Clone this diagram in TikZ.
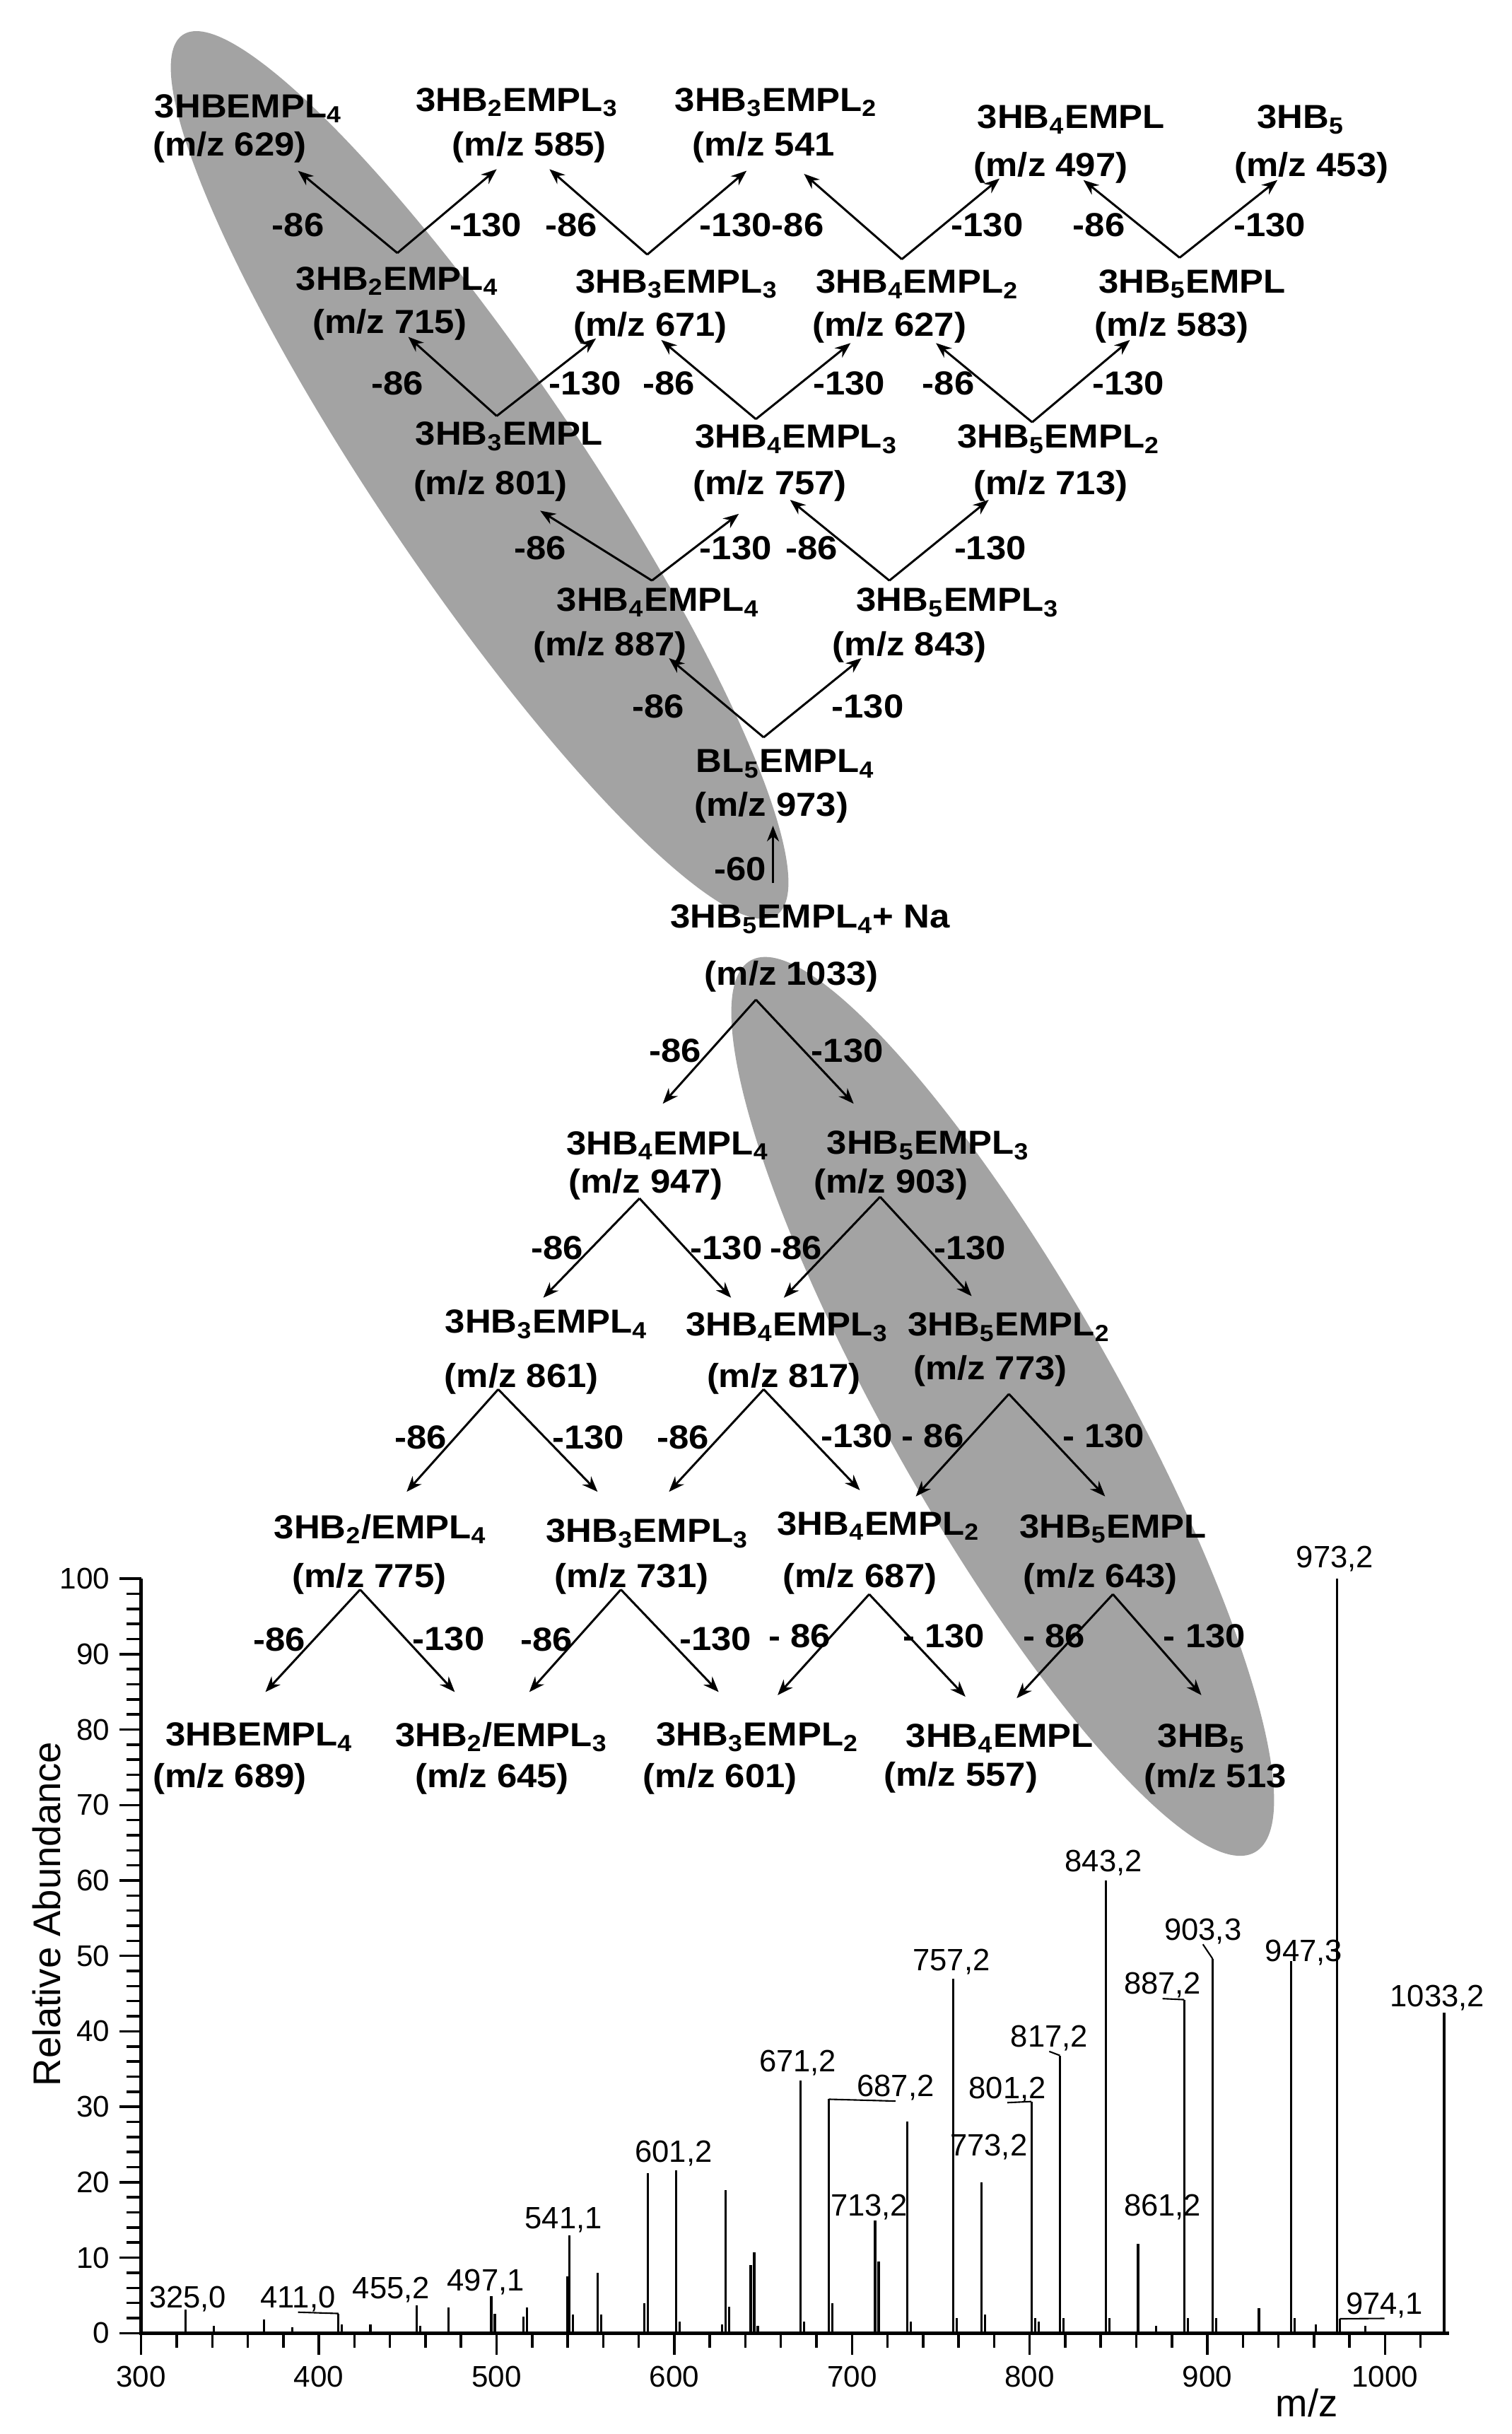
\documentclass[tikz,border=0pt]{standalone}
\usepackage{fontspec}
\setmainfont{Liberation Sans}
\newfontfamily\treefont{Liberation Sans}[FakeStretch=1.08]
\usetikzlibrary{arrows.meta}
\newcommand{\subn}[1]{\textsubscript{#1}}
\tikzset{
  ion/.style={font=\treefont\bfseries\fontsize{13.4}{16}\selectfont, inner sep=0pt},
  loss/.style={font=\treefont\bfseries\fontsize{13.4}{16}\selectfont, inner sep=0pt},
  frag/.style={-{Stealth[length=2.2mm,width=1.7mm]}, line width=0.85pt},
  blob/.style={fill=black!36},
  peak/.style={line width=0.9pt},
  plabel/.style={font=\fontsize{12.4}{14}\selectfont, inner sep=0pt},
  tlabel/.style={font=\fontsize{12}{14}\selectfont, inner sep=0pt},
}

\begin{document}
\begin{tikzpicture}[x=0.2195mm, y=-0.2195mm]
\useasboundingbox (0,0) rectangle (974,1568);

% shaded pathways
\fill[blob, rotate around={-56:(309,306)}] (309,306) ellipse [x radius=342, y radius=66];
\fill[blob, rotate around={-60.5:(646,906)}] (646,906) ellipse [x radius=330, y radius=74];

% upper tree, top row
\node[ion] (f629) at (160,70) {3HBEMPL\subn{4}};
\node[ion] (m629) at (148,95) {(m/z 629)};
\node[ion] (f585) at (333,66) {3HB\subn{2}EMPL\subn{3}};
\node[ion] (m585) at (341,95) {(m/z 585)};
\node[ion] (f541) at (500,66) {3HB\subn{3}EMPL\subn{2}};
\node[ion] (m541) at (492,95) {(m/z 541};
\node[ion] (f497) at (690,77) {3HB\subn{4}EMPL};
\node[ion] (m497) at (677,108) {(m/z 497)};
\node[ion] (f453) at (838,77) {3HB\subn{5}};
\node[ion] (m453) at (845,108) {(m/z 453)};
% second row
\node[ion] (f715) at (256,181) {3HB\subn{2}EMPL\subn{4}};
\node[ion] (m715) at (251,209) {(m/z 715)};
\node[ion] (f671) at (436,183) {3HB\subn{3}EMPL\subn{3}};
\node[ion] (m671) at (419,211) {(m/z 671)};
\node[ion] (f627) at (591,183) {3HB\subn{4}EMPL\subn{2}};
\node[ion] (m627) at (573,211) {(m/z 627)};
\node[ion] (f583) at (768,183) {3HB\subn{5}EMPL};
\node[ion] (m583) at (755,211) {(m/z 583)};
% third row
\node[ion] (f801) at (328,281) {3HB\subn{3}EMPL};
\node[ion] (m801) at (316,313) {(m/z 801)};
\node[ion] (f757) at (513,283) {3HB\subn{4}EMPL\subn{3}};
\node[ion] (m757) at (496,313) {(m/z 757)};
\node[ion] (f713) at (682,283) {3HB\subn{5}EMPL\subn{2}};
\node[ion] (m713) at (677,313) {(m/z 713)};
% fourth row
\node[ion] (f887) at (424,388) {3HB\subn{4}EMPL\subn{4}};
\node[ion] (m887) at (393,417) {(m/z 887)};
\node[ion] (f843) at (617,388) {3HB\subn{5}EMPL\subn{3}};
\node[ion] (m843) at (586,417) {(m/z 843)};
% lactone and parent ion
\node[ion] (f973) at (506,492) {BL\subn{5}EMPL\subn{4}};
\node[ion] (m973) at (497,520) {(m/z 973)};
\node[ion] (f1033) at (522,592) {3HB\subn{5}EMPL\subn{4}+ Na};
\node[ion] (m1033) at (510,629) {(m/z 1033)};

% lower tree
\node[ion] (f947) at (430,738) {3HB\subn{4}EMPL\subn{4}};
\node[ion] (m947) at (416,763) {(m/z 947)};
\node[ion] (f903) at (598,738) {3HB\subn{5}EMPL\subn{3}};
\node[ion] (m903) at (574,763) {(m/z 903)};
\node[ion] (f861) at (352,853) {3HB\subn{3}EMPL\subn{4}};
\node[ion] (m861) at (336,888) {(m/z 861)};
\node[ion] (f817) at (507,855) {3HB\subn{4}EMPL\subn{3}};
\node[ion] (m817) at (505,888) {(m/z 817)};
\node[ion] (f773) at (650,855) {3HB\subn{5}EMPL\subn{2}};
\node[ion] (m773) at (638,883) {(m/z 773)};
\node[ion] (f775) at (245,985) {3HB\subn{2}/EMPL\subn{4}};
\node[ion] (m775) at (238,1017) {(m/z 775)};
\node[ion] (f731) at (417,988) {3HB\subn{3}EMPL\subn{3}};
\node[ion] (m731) at (407,1017) {(m/z 731)};
\node[ion] (f687) at (566,983) {3HB\subn{4}EMPL\subn{2}};
\node[ion] (m687) at (554,1017) {(m/z 687)};
\node[ion] (f643) at (717,985) {3HB\subn{5}EMPL};
\node[ion] (m643) at (709,1017) {(m/z 643)};
\node[ion] (f689) at (167,1119) {3HBEMPL\subn{4}};
\node[ion] (m689) at (148,1146) {(m/z 689)};
\node[ion] (f645) at (323,1119) {3HB\subn{2}/EMPL\subn{3}};
\node[ion] (m645) at (317,1146) {(m/z 645)};
\node[ion] (f601) at (488,1119) {3HB\subn{3}EMPL\subn{2}};
\node[ion] (m601) at (464,1146) {(m/z 601)};
\node[ion] (f557) at (644,1120) {3HB\subn{4}EMPL};
\node[ion] (m557) at (619,1145) {(m/z 557)};
\node[ion] (f513) at (774,1120) {3HB\subn{5}};
\node[ion] (m513) at (783,1146) {(m/z 513};

% neutral losses, upper tree
\node[loss] (a715l) at (192,145) {-86};
\node[loss] (a715r) at (313,145) {-130};
\node[loss] (a671l) at (368,145) {-86};
\node[loss] (a671r) at (474,145) {-130};
\node[loss] (a627l) at (514,145) {-86};
\node[loss] (a627r) at (636,145) {-130};
\node[loss] (a583l) at (708,145) {-86};
\node[loss] (a583r) at (818,145) {-130};
\node[loss] (a801l) at (256,247) {-86};
\node[loss] (a801r) at (377,247) {-130};
\node[loss] (a757l) at (431,247) {-86};
\node[loss] (a757r) at (547,247) {-130};
\node[loss] (a713l) at (611,247) {-86};
\node[loss] (a713r) at (727,247) {-130};
\node[loss] (a887l) at (348,353) {-86};
\node[loss] (a887r) at (474,353) {-130};
\node[loss] (a843l) at (523,353) {-86};
\node[loss] (a843r) at (638,353) {-130};
\node[loss] (a973l) at (424,455) {-86};
\node[loss] (a973r) at (559,455) {-130};
\node[loss] (a1033u) at (477,560) {-60};
% neutral losses, lower tree
\node[loss] (b1033l) at (435,677) {-86};
\node[loss] (b1033r) at (546,677) {-130};
\node[loss] (b947l) at (359,804) {-86};
\node[loss] (b947r) at (468,804) {-130};
\node[loss] (b903l) at (513,804) {-86};
\node[loss] (b903r) at (625,804) {-130};
\node[loss] (b861l) at (271,926) {-86};
\node[loss] (b861r) at (379,926) {-130};
\node[loss] (b817l) at (440,926) {-86};
\node[loss] (b817r) at (552,925) {-130};
\node[loss] (b773l) at (601,925) {- 86};
\node[loss] (b773r) at (711,925) {- 130};
\node[loss] (b775l) at (180,1056) {-86};
\node[loss] (b775r) at (289,1056) {-130};
\node[loss] (b731l) at (352,1056) {-86};
\node[loss] (b731r) at (461,1056) {-130};
\node[loss] (b687l) at (515,1054) {- 86};
\node[loss] (b687r) at (608,1054) {- 130};
\node[loss] (b643l) at (679,1054) {- 86};
\node[loss] (b643r) at (776,1054) {- 130};

% upper arrows
\draw[frag] ([shift={(0,-18)}]f715.center) -- ([shift={(44,15)}]m629.center);
\draw[frag] ([shift={(0,-18)}]f715.center) -- ([shift={(-21,14)}]m585.center);
\draw[frag] ([shift={(-19,-19)}]f671.center) -- ([shift={(13,14)}]m585.center);
\draw[frag] ([shift={(-19,-19)}]f671.center) -- ([shift={(-11,15)}]m541.center);
\draw[frag] ([shift={(-10,-16)}]f627.center) -- ([shift={(26,17)}]m541.center);
\draw[frag] ([shift={(-10,-16)}]f627.center) -- ([shift={(-33,7)}]m497.center);
\draw[frag] ([shift={(-8,-17)}]f583.center) -- ([shift={(21,8)}]m497.center);
\draw[frag] ([shift={(-8,-17)}]f583.center) -- ([shift={(-22,8)}]m453.center);
\draw[frag] ([shift={(-8,-13)}]f801.center) -- ([shift={(12,8)}]m715.center);
\draw[frag] ([shift={(-8,-13)}]f801.center) -- ([shift={(-35,7)}]m671.center);
\draw[frag] ([shift={(-26,-13)}]f757.center) -- ([shift={(7,8)}]m671.center);
\draw[frag] ([shift={(-26,-13)}]f757.center) -- ([shift={(-25,10)}]m627.center);
\draw[frag] ([shift={(-17,-11)}]f713.center) -- ([shift={(30,10)}]m627.center);
\draw[frag] ([shift={(-17,-11)}]f713.center) -- ([shift={(-27,8)}]m583.center);
\draw[frag] ([shift={(-4,-14)}]f887.center) -- ([shift={(32,16)}]m801.center);
\draw[frag] ([shift={(-4,-14)}]f887.center) -- ([shift={(-20,18)}]m757.center);
\draw[frag] ([shift={(-44,-14)}]f843.center) -- ([shift={(13,9)}]m757.center);
\draw[frag] ([shift={(-44,-14)}]f843.center) -- ([shift={(-40,9)}]m713.center);
\draw[frag] ([shift={(-14,-17)}]f973.center) -- ([shift={(38,7)}]m887.center);
\draw[frag] ([shift={(-14,-17)}]f973.center) -- ([shift={(-31,7)}]m843.center);
\draw[frag] ([shift={(-24,-23)}]f1033.center) -- ([shift={(1,12)}]m973.center);

% lower arrows
\draw[frag] ([shift={(-23,15)}]m1033.center) -- ([shift={(-3,-27)}]f947.center);
\draw[frag] ([shift={(-23,15)}]m1033.center) -- ([shift={(-48,-27)}]f903.center);
\draw[frag] ([shift={(-4,9)}]m947.center) -- ([shift={(-2,-17)}]f861.center);
\draw[frag] ([shift={(-4,9)}]m947.center) -- ([shift={(-36,-19)}]f817.center);
\draw[frag] ([shift={(-7,8)}]m903.center) -- ([shift={(-2,-19)}]f817.center);
\draw[frag] ([shift={(-7,8)}]m903.center) -- ([shift={(-24,-20)}]f773.center);
\draw[frag] ([shift={(-15,7)}]m861.center) -- ([shift={(17,-24)}]f775.center);
\draw[frag] ([shift={(-15,7)}]m861.center) -- ([shift={(-32,-27)}]f731.center);
\draw[frag] ([shift={(-13,7)}]m817.center) -- ([shift={(14,-27)}]f731.center);
\draw[frag] ([shift={(-13,7)}]m817.center) -- ([shift={(-12,-23)}]f687.center);
\draw[frag] ([shift={(12,15)}]m773.center) -- ([shift={(24,-19)}]f687.center);
\draw[frag] ([shift={(12,15)}]m773.center) -- ([shift={(-5,-21)}]f643.center);
\draw[frag] ([shift={(-6,7)}]m775.center) -- ([shift={(4,-29)}]f689.center);
\draw[frag] ([shift={(-6,7)}]m775.center) -- ([shift={(-30,-29)}]f645.center);
\draw[frag] ([shift={(-7,7)}]m731.center) -- ([shift={(18,-29)}]f645.center);
\draw[frag] ([shift={(-7,7)}]m731.center) -- ([shift={(-25,-29)}]f601.center);
\draw[frag] ([shift={(6,10)}]m687.center) -- ([shift={(13,-27)}]f601.center);
\draw[frag] ([shift={(6,10)}]m687.center) -- ([shift={(-22,-27)}]f557.center);
\draw[frag] ([shift={(8,10)}]m643.center) -- ([shift={(11,-26)}]f557.center);
\draw[frag] ([shift={(8,10)}]m643.center) -- ([shift={(0,-28)}]f513.center);

% peak labels
\node[plabel] (p325) at (121,1481) {325,0};
\node[plabel] (p411) at (192,1481) {411,0};
\node[plabel] (p455) at (252,1475) {455,2};
\node[plabel] (p497) at (313,1470) {497,1};
\node[plabel] (p541) at (363,1430) {541,1};
\node[plabel] (p601) at (434,1387) {601,2};
\node[plabel] (p671) at (514,1329) {671,2};
\node[plabel] (p687) at (577,1345) {687,2};
\node[plabel] (p713) at (560,1422) {713,2};
\node[plabel] (p757) at (613,1264) {757,2};
\node[plabel] (p773) at (637,1383) {773,2};
\node[plabel] (p801) at (649,1346) {801,2};
\node[plabel] (p817) at (676,1313) {817,2};
\node[plabel] (p843) at (711,1200) {843,2};
\node[plabel] (p861) at (749,1422) {861,2};
\node[plabel] (p887) at (749,1279) {887,2};
\node[plabel] (p903) at (775,1244) {903,3};
\node[plabel] (p947) at (840,1258) {947,3};
\node[plabel] (p973) at (860,1004) {973,2};
\node[plabel] (p974) at (892,1485) {974,1};
\node[plabel] (p1033) at (926,1287) {1033,2};

% axis titles
\node[font=\fontsize{15.5}{18}\selectfont, rotate=90] (ytitle) at (30,1233) {Relative Abundance};
\node[font=\fontsize{15.5}{18}\selectfont] (xtitle) at (842,1548) {m/z};

% spectrum
\begin{scope}[shift={(91-300*1.145,1503)}, x=0.2513mm, y=1.0668mm]
  \draw[line width=1.5pt] (300,100) -- (300,0) -- (1036,0);
  \foreach \v in {0,2,...,100} \draw[line width=1pt] (300,\v) -- ++(-2.1mm,0pt);
  \foreach \v in {0,10,...,100} {
    \draw[line width=1pt] (300,\v) -- ++(-3.1mm,0pt);
    \node[tlabel, anchor=east, xshift=-4.4mm] (yt\v) at (300,\v) {\v};
  }
  \foreach \m in {300,320,...,1020} \draw[line width=1pt] (\m,0) -- ++(0pt,-2.1mm);
  \foreach \m in {300,400,...,1000} {
    \draw[line width=1pt] (\m,0) -- ++(0pt,-3.1mm);
    \node[tlabel, yshift=-6.2mm] (xt\m) at (\m,0) {\m};
  }
  % peaks
  \foreach \m/\h in {325/3.1, 341/1, 369/1.8, 385/0.8, 411/2.6, 413/1.2, 429/1.2,
      455/3.7, 457/1, 473/3.4, 497/4.9, 499/2.6, 515/2.2, 517/3.4, 540/7.5, 541/13,
      543/2.5, 557/8, 559/2.5, 583/4, 585/21.2, 601/21.6, 603/1.5, 627/1.2, 629/19,
      631/3.5, 643/9, 645/10.7, 647/1, 671/33.5, 673/1.5, 687/31, 689/4, 713/14.9,
      715/9.5, 731/28, 733/1.5, 757/47, 759/2, 773/20, 775/2.5, 801/30.7, 803/2,
      805/1.5, 817/36.8, 819/2, 843/60, 845/2, 861/11.8, 871/1, 887/44.2, 889/2,
      903/49.6, 905/2, 929/3.3, 947/49.3, 949/2, 961/1.2, 973/100, 974.5/1.9,
      989/1, 1033.2/42.5}
    \draw[peak] (\m,0) -- (\m,\h);
  % label leaders
  \draw[line width=0.6pt] (p411.south) -- (411,2.6);
  \draw[line width=0.6pt] (687,31) -- (p687.south);
  \draw[line width=0.6pt] (p801.south) -- (801,30.7);
  \draw[line width=0.6pt] (p817.south) -- (817,36.8);
  \draw[line width=0.6pt] (p887.south) -- (887,44.2);
  \draw[line width=0.6pt] (p903.south) -- (903,49.6);
  \draw[line width=0.6pt] (974.5,1.9) -- (p974.south);
\end{scope}
\end{tikzpicture}
\end{document}
